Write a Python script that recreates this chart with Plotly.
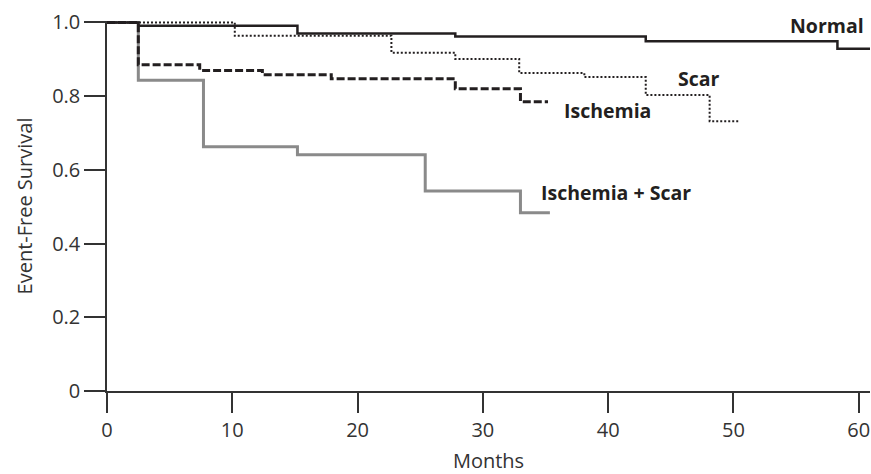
import plotly.graph_objects as go

# ---- data (months, event-free survival) ----
normal_t = [0, 2.5, 15.2, 27.8, 43.0, 58.3, 60.9]
normal_s = [1.0, 0.991, 0.970, 0.962, 0.949, 0.929, 0.929]

scar_t = [0, 10.2, 22.7, 27.8, 32.9, 38.1, 43.0, 48.1, 50.4]
scar_s = [1.0, 0.964, 0.918, 0.901, 0.863, 0.852, 0.803, 0.732, 0.732]

isch_t = [0, 2.5, 7.4, 12.4, 17.9, 27.8, 33.0, 35.2]
isch_s = [1.0, 0.885, 0.870, 0.858, 0.847, 0.820, 0.785, 0.785]

iscar_t = [0, 2.5, 7.7, 15.2, 25.4, 33.0, 35.35]
iscar_s = [1.0, 0.843, 0.663, 0.641, 0.543, 0.484, 0.484]

x_ticks = [0, 10, 20, 30, 40, 50, 60]
y_ticks = [0, 0.2, 0.4, 0.6, 0.8, 1.0]
y_ticktext = ["0", "0.2", "0.4", "0.6", "0.8", "1.0"]

labels = ["Normal", "Scar", "Ischemia", "Ischemia + Scar"]
label_x = [60.6, 45.4, 36.3, 34.5]
label_y = [0.992, 0.848, 0.760, 0.539]
label_anchor = ["right", "left", "left", "left"]

FONT = "Open Sans"
TXT = "#231f20"

fig = go.Figure()
fig.add_trace(go.Scatter(x=iscar_t, y=iscar_s, mode="lines", line_shape="hv",
                         line=dict(color="#8a8a8a", width=3), name="Ischemia + Scar"))
fig.add_trace(go.Scatter(x=scar_t, y=scar_s, mode="lines", line_shape="hv",
                         line=dict(color=TXT, width=2, dash="2px,2px"), name="Scar"))
fig.add_trace(go.Scatter(x=isch_t, y=isch_s, mode="lines", line_shape="hv",
                         line=dict(color=TXT, width=3, dash="8px,3px"), name="Ischemia"))
fig.add_trace(go.Scatter(x=normal_t, y=normal_s, mode="lines", line_shape="hv",
                         line=dict(color=TXT, width=2.5), name="Normal"))

for txt, lx, ly, anc in zip(labels, label_x, label_y, label_anchor):
    fig.add_annotation(x=lx, y=ly, text="<b>" + txt + "</b>", showarrow=False,
                       xanchor=anc, yanchor="middle",
                       font=dict(family=FONT, size=19.5, color=TXT))

fig.update_layout(
    width=871, height=474,
    margin=dict(l=107, r=1, t=21, b=77),
    paper_bgcolor="white", plot_bgcolor="white",
    showlegend=False,
    font=dict(family=FONT, size=20, color="#333"),
    xaxis=dict(range=[0, 60.9], tickvals=x_ticks, ticks="outside", ticklen=20,
               tickwidth=1.5, tickcolor="#333", showline=True, linecolor="#333",
               linewidth=1.5, showgrid=False, zeroline=False,
               title=dict(text="Months", font=dict(family=FONT, size=20, color="#333"), standoff=16)),
    yaxis=dict(range=[0, 1.004], tickvals=y_ticks, ticktext=y_ticktext, ticks="outside",
               ticklen=21, tickwidth=1.5, tickcolor="#333", showline=True, linecolor="#333",
               linewidth=1.5, showgrid=False, zeroline=False,
               title=dict(text="Event-Free Survival", font=dict(family=FONT, size=20, color="#333"), standoff=14)),
)

# remove the browser's default 8px page margin so the figure fills the window
fig.write_html("out.html", config={"displayModeBar": False},
               post_script="document.body.style.margin='0';document.body.style.overflow='hidden';")
